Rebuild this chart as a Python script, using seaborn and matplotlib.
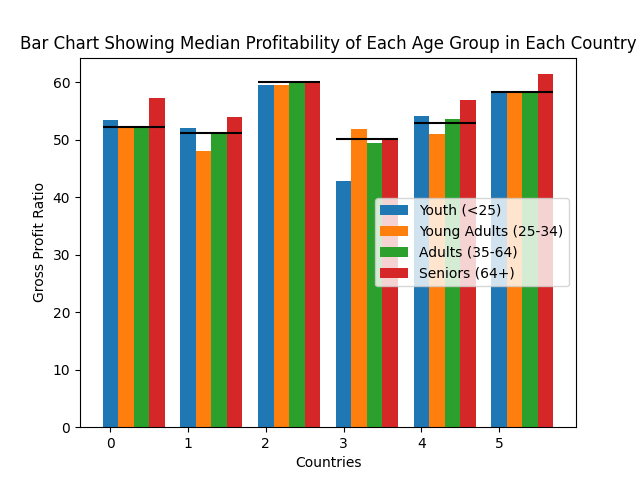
import matplotlib
matplotlib.use("Agg")
import matplotlib.pyplot as plt
import seaborn as sns
import pandas as pd

countries = [0, 1, 2, 3, 4, 5]
age_groups = ["Youth (<25)", "Young Adults (25-34)", "Adults (35-64)", "Seniors (64+)"]
youth = [53.5, 52.0, 59.6, 42.9, 54.1, 58.2]
young_adults = [52.3, 48.1, 59.6, 51.8, 51.0, 58.2]
adults = [52.3, 51.0, 60.0, 49.5, 53.6, 58.2]
seniors = [57.3, 53.9, 60.0, 50.0, 57.0, 61.4]
medians = [52.3, 51.1, 60.0, 50.1, 53.0, 58.3]

rows = []
for name, vals in zip(age_groups, [youth, young_adults, adults, seniors]):
    for c, v in zip(countries, vals):
        rows.append({"Country": c, "Age": name, "Ratio": v})
df = pd.DataFrame(rows)

fig, ax = plt.subplots(figsize=(6.4, 4.8), dpi=100)
sns.barplot(data=df, x="Country", y="Ratio", hue="Age", hue_order=age_groups,
            palette=["#1f77b4", "#ff7f0e", "#2ca02c", "#d62728"],
            saturation=1, gap=0, width=0.8, errorbar=None, ax=ax)

# median line per country across the group
for i, m in enumerate(medians):
    ax.hlines(m, i - 0.4, i + 0.4, color="black")

# reference puts tick under the first bar of each group
ax.set_xticks([i - 0.3 for i in countries])
ax.set_xticklabels([str(c) for c in countries])
ax.set_xlim(-0.69, 5.69)
ax.set_ylim(0, 64.3)
ax.set_xlabel("Countries")
ax.set_ylabel("Gross Profit Ratio")
ax.set_title("Bar Chart Showing Median Profitability of Each Age Group in Each Country")
handles, labels = ax.get_legend_handles_labels()
ax.legend(handles, labels, loc="center right", title=None)
plt.savefig("out.png")
